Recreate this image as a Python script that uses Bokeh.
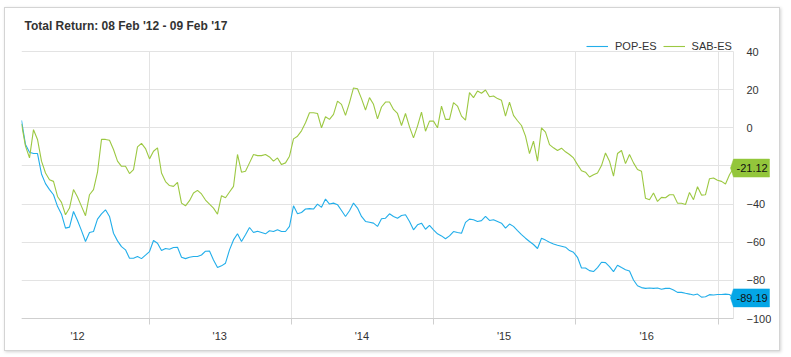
import pandas as pd
from bokeh.plotting import figure
from bokeh.models import (Range1d, FixedTicker, DatetimeTickFormatter, Legend,
                          LegendItem, Label)
from bokeh.embed import file_html
from bokeh.resources import INLINE

title_text = "Total Return: 08 Feb '12 - 09 Feb '17"
series_names = ["POP-ES", "SAB-ES"]
start_date = "2012-02-08"
end_date = "2017-02-09"

pop = [3.9, -8.8, -12.8, -13.5, -13.5, -24.2, -29.3, -32.4, -35.1, -41.2,
       -45.3, -52.6, -52.1, -43.9, -48.6, -53.9, -59.6, -54.9, -54.4, -47.9,
       -45.1, -43.0, -46.5, -55.3, -59.3, -62.3, -64.0, -68.4, -68.4, -67.5,
       -68.6, -66.8, -64.9, -59.1, -60.5, -64.4, -63.3, -63.7, -62.8, -62.6,
       -67.9, -68.6, -67.9, -67.5, -67.5, -66.7, -64.7, -64.6, -69.3, -73.3,
       -72.4, -71.0, -64.0, -58.8, -55.6, -59.6, -56.1, -52.3, -54.9, -54.2,
       -54.9, -55.6, -54.0, -54.4, -53.5, -54.4, -54.4, -51.7, -40.9, -45.1,
       -44.4, -42.6, -42.4, -42.6, -40.0, -41.7, -37.4, -40.0, -39.5, -40.3,
       -43.4, -46.5, -43.5, -39.5, -42.1, -46.5, -49.1, -49.5, -50.0, -51.7,
       -47.7, -47.4, -45.1, -46.5, -47.4, -46.0, -45.6, -49.1, -53.5, -50.9,
       -50.0, -53.2, -51.2, -53.5, -55.6, -56.7, -58.2, -56.7, -54.4, -54.9,
       -55.3, -49.6, -47.9, -48.2, -49.1, -48.7, -46.5, -48.6, -48.2, -49.1,
       -50.0, -52.6, -50.5, -51.7, -53.9, -56.0, -57.9, -59.6, -61.2, -63.3,
       -57.9, -58.9, -60.0, -60.9, -61.6, -62.1, -62.6, -64.4, -65.3, -67.9,
       -73.5, -73.5, -74.9, -75.4, -73.3, -70.5, -70.7, -72.8, -75.4, -72.1,
       -73.3, -74.4, -75.1, -79.8, -82.8, -83.8, -84.2, -84.0, -84.2, -84.0,
       -84.7, -84.2, -84.2, -85.1, -86.3, -86.3, -86.8, -87.2, -87.7, -87.2,
       -88.8, -88.6, -87.5, -87.7, -87.4, -87.4, -87.2, -87.4, -89.19]

sab = [2.0, -9.6, -15.8, -1.0, -6.1, -17.5, -23.7, -27.2, -28.1, -36.0,
       -39.1, -45.6, -42.1, -32.4, -36.3, -41.2, -46.1, -35.1, -32.4, -23.3,
       -6.1, -6.1, -6.5, -11.4, -17.5, -20.2, -20.2, -24.0, -21.9, -10.0,
       -8.2, -10.9, -16.3, -12.3, -10.5, -23.7, -28.2, -30.3, -30.7, -28.6,
       -39.5, -40.9, -38.2, -34.2, -32.8, -34.7, -37.9, -40.0, -42.1, -45.3,
       -35.6, -36.7, -33.7, -30.7, -14.0, -23.3, -22.8, -18.4, -14.0, -14.6,
       -14.6, -14.0, -15.3, -17.5, -15.8, -19.3, -18.4, -14.9, -5.8, -4.4,
       -1.6, 2.6, 7.9, 7.9, 7.5, 0.0, 5.8, 4.4, 7.0, 14.0,
       12.3, 6.5, 13.2, 20.9, 20.5, 15.3, 9.3, 15.8, 12.3, 4.7,
       10.9, 13.5, 13.5, 9.6, 7.5, 1.2, 7.5, 0.5, -5.3, 0.9,
       8.2, -1.8, 3.5, 3.5, 0.0, 11.4, 4.4, 4.4, 13.2, 11.4,
       6.1, 4.0, 18.4, 15.8, 19.3, 18.1, 19.8, 16.3, 16.7, 15.3,
       14.4, 6.1, 13.5, 6.5, 3.7, 1.2, -4.4, -13.5, -7.0, -17.5,
       0.0, -2.3, -8.8, -10.5, -11.9, -10.7, -12.6, -14.0, -15.8, -19.3,
       -22.5, -23.3, -25.8, -24.6, -23.7, -19.8, -13.2, -17.5, -25.4, -13.5,
       -11.9, -18.8, -14.0, -18.4, -21.9, -22.8, -37.0, -37.7, -34.2, -38.6,
       -36.5, -36.7, -35.1, -35.1, -39.5, -39.6, -40.2, -33.9, -37.7, -30.9,
       -35.3, -35.1, -26.7, -26.3, -27.5, -28.1, -29.5, -24.6, -21.12]

year_starts = ["2013-01-01", "2014-01-01", "2015-01-01", "2016-01-01", "2017-01-01"]
label_dates = ["2012-07-01", "2013-07-01", "2014-07-01", "2015-07-01", "2016-07-01"]
y_ticks = [-100, -80, -60, -40, -20, 0, 20, 40]

BLUE = "#22aeea"
GREEN = "#9cc842"
BLUE_BOX = "#04a6e6"
GREEN_BOX = "#93c63b"
GRID = "#e3e3e3"
FONT = "Liberation Sans"

# layout (pixels, canvas coordinates)
CANVAS_W, CANVAS_H = 776, 344
LEFT, RIGHT, TOP, BOTTOM = 16, 10, 25, 2
BAND_TOP, BAND_BOTTOM = 43, 310   # where 40 and -100 sit
DATA_W = 712                      # pixels covered by the data's time span
FRAME_W = CANVAS_W - LEFT - RIGHT
FRAME_BOTTOM = CANVAS_H - BOTTOM
Y0, Y1 = -100, 40


def ms(s):
    return pd.Timestamp(s).value / 1e6


t0, t1 = ms(start_date), ms(end_date)
ms_per_px = (t1 - t0) / DATA_W
val_per_px = (Y1 - Y0) / (BAND_BOTTOM - BAND_TOP)

dates = pd.date_range(start_date, end_date, periods=len(pop))

p = figure(width=CANVAS_W, height=CANVAS_H, x_axis_type="datetime",
           y_axis_location="right", output_backend="svg", toolbar_location=None,
           x_range=Range1d(t0, t0 + FRAME_W * ms_per_px),
           y_range=Range1d(Y0 - (FRAME_BOTTOM - BAND_BOTTOM) * val_per_px,
                           Y1 + (BAND_TOP - TOP) * val_per_px),
           min_border_left=LEFT, min_border_right=RIGHT, min_border_top=TOP,
           min_border_bottom=BOTTOM)
p.margin = (7, 0, 0, 4)
p.styles = {"border": "1px solid #d4d4d4",
            "box-shadow": "1px 1px 3px rgba(0,0,0,0.18)"}
p.background_fill_color = "white"
p.border_fill_color = "white"
p.outline_line_color = None

# title
p.title.text = title_text
p.title.align = "left"
p.title.offset = 3
p.title.standoff = 1
p.title.text_font = FONT
p.title.text_font_size = "12px"
p.title.text_font_style = "bold"
p.title.text_color = "#333333"

r_pop = p.line(dates, pop, line_color=BLUE, line_width=1.1)
r_sab = p.line(dates, sab, line_color=GREEN, line_width=1.1)

# grids
p.xgrid.ticker = FixedTicker(ticks=[t0] + [ms(d) for d in year_starts])
p.ygrid.ticker = FixedTicker(ticks=y_ticks)
p.xgrid.grid_line_color = GRID
p.ygrid.grid_line_color = GRID
p.ygrid.cross_bounds = (t0, t1)
p.xgrid.cross_bounds = (Y0, Y1)

# x axis at -100: labels mid-year, tick marks at year starts
xa = p.xaxis[0]
xa.fixed_location = Y0
xa.bounds = (t0, t1)
xa.ticker = FixedTicker(ticks=[ms(d) for d in label_dates],
                        minor_ticks=[ms(d) for d in year_starts])
fmt = "'%y"
xa.formatter = DatetimeTickFormatter(microseconds=fmt, milliseconds=fmt, seconds=fmt,
                                     minsec=fmt, minutes=fmt, hourmin=fmt, hours=fmt,
                                     days=fmt, months=fmt, years=fmt)
xa.major_tick_line_color = None
xa.minor_tick_line_color = "#cfcfcf"
xa.minor_tick_out = 6
xa.minor_tick_in = 0
xa.axis_line_color = "#cfcfcf"
xa.major_label_standoff = 5
xa.major_label_text_font = FONT
xa.major_label_text_font_size = "11px"
xa.major_label_text_color = "#333333"

# y axis drawn at the data's right edge; labels start 7px right of it
ya = p.yaxis[0]
ya.ticker = FixedTicker(ticks=y_ticks)
ya.fixed_location = t1
ya.bounds = (Y0, Y1)
ya.major_label_standoff = 7
ya.major_tick_line_color = None
ya.minor_tick_line_color = None
ya.axis_line_color = GRID
ya.major_label_text_font = FONT
ya.major_label_text_font_size = "11px"
ya.major_label_text_color = "#333333"

legend = Legend(items=[LegendItem(label=series_names[0], renderers=[r_pop]),
                       LegendItem(label=series_names[1], renderers=[r_sab])],
                orientation="horizontal", location=(565, FRAME_BOTTOM - BAND_BOTTOM + 266 - 0),
                glyph_width=22, glyph_height=12, label_height=12,
                label_standoff=7, spacing=6, padding=0, margin=0,
                border_line_color=None, background_fill_alpha=0,
                label_text_font=FONT, label_text_font_size="11px",
                label_text_color="#333333")
p.add_layout(legend)

# last-value flags at the right edge, drawn over the axis labels
for val, col in [(sab[-1], GREEN_BOX), (pop[-1], BLUE_BOX)]:
    h = 9 * val_per_px
    xs = [t1 - 3 * ms_per_px, t1, t1 + 36 * ms_per_px, t1 + 36 * ms_per_px, t1]
    ys = [val, val + h, val + h, val - h, val - h]
    p.patch(xs, ys, fill_color=col, line_color=col, line_width=0.5, level="overlay")
    p.add_layout(Label(x=t1, y=val, x_offset=3, text=f"{val:.2f}",
                       text_font=FONT, text_font_size="11px", text_color="#111111",
                       text_baseline="middle", level="overlay"))

open("out.html", "w").write(file_html(p, INLINE))
